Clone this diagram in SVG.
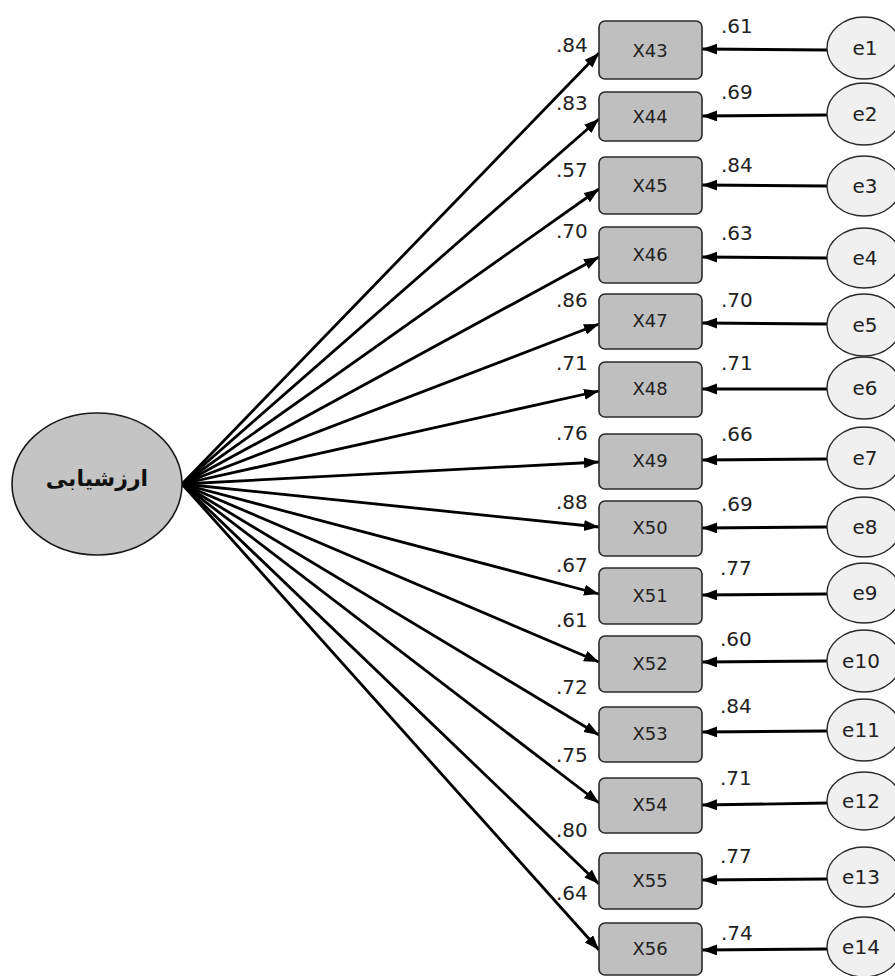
<svg xmlns="http://www.w3.org/2000/svg" width="895" height="976" viewBox="0 0 895 976">
<defs>
<marker id="ah" markerUnits="userSpaceOnUse" markerWidth="16" markerHeight="12" refX="15" refY="5.5" orient="auto">
<path d="M0,0 L15,5.5 L0,11 z" fill="#000"/>
</marker>
<style>
.box{fill:#bfbfbf;stroke:#2a2a2a;stroke-width:1.6}
.err{fill:#f0f0f0;stroke:#2a2a2a;stroke-width:1.4}
.lat{fill:#c4c4c4;stroke:#1a1a1a;stroke-width:1.6}
.bl{font-family:"DejaVu Sans",sans-serif;font-size:18px;fill:#222;text-anchor:middle}
.el{font-family:"DejaVu Sans",sans-serif;font-size:20px;fill:#222;text-anchor:middle}
.num{font-family:"DejaVu Sans",sans-serif;font-size:20px;fill:#222}
.c{stroke:#000;stroke-width:2.8;fill:none;marker-end:url(#ah)}
</style>
</defs>
<rect width="895" height="976" fill="#fff"/>
<g id="connectors">
<line class="c" x1="182" y1="484" x2="599" y2="53"/>
<line class="c" x1="182" y1="484" x2="599" y2="119"/>
<line class="c" x1="182" y1="484" x2="599" y2="189"/>
<line class="c" x1="182" y1="484" x2="599" y2="257"/>
<line class="c" x1="182" y1="484" x2="599" y2="324"/>
<line class="c" x1="182" y1="484" x2="599" y2="391"/>
<line class="c" x1="182" y1="484" x2="599" y2="462"/>
<line class="c" x1="182" y1="484" x2="599" y2="527"/>
<line class="c" x1="182" y1="484" x2="599" y2="594"/>
<line class="c" x1="182" y1="484" x2="599" y2="662"/>
<line class="c" x1="182" y1="484" x2="599" y2="735"/>
<line class="c" x1="182" y1="484" x2="599" y2="803"/>
<line class="c" x1="182" y1="484" x2="599" y2="884"/>
<line class="c" x1="182" y1="484" x2="599" y2="950"/>
<line class="c" x1="827" y1="50" x2="702" y2="49"/>
<line class="c" x1="827" y1="115" x2="702" y2="116"/>
<line class="c" x1="827" y1="186" x2="702" y2="185"/>
<line class="c" x1="827" y1="258" x2="702" y2="257"/>
<line class="c" x1="827" y1="324" x2="702" y2="323"/>
<line class="c" x1="827" y1="389" x2="702" y2="389"/>
<line class="c" x1="827" y1="459" x2="702" y2="460"/>
<line class="c" x1="827" y1="527" x2="702" y2="528"/>
<line class="c" x1="827" y1="594" x2="702" y2="595"/>
<line class="c" x1="827" y1="661" x2="702" y2="662"/>
<line class="c" x1="827" y1="731" x2="702" y2="732"/>
<line class="c" x1="827" y1="803" x2="702" y2="805"/>
<line class="c" x1="827" y1="879" x2="702" y2="880"/>
<line class="c" x1="827" y1="949" x2="702" y2="950"/>
</g>
<g id="latent">
<ellipse class="lat" cx="97" cy="484" rx="85" ry="71"/>
<text x="97" y="486" font-family="'DejaVu Sans',sans-serif" font-size="22" font-weight="bold" text-anchor="middle" fill="#111">ارزشیابی</text>
</g>
<g id="X43"><rect class="box" x="599" y="21" width="103" height="58" rx="6"/><text class="bl" x="650" y="57">X43</text></g>
<g id="X44"><rect class="box" x="599" y="92" width="103" height="49" rx="6"/><text class="bl" x="650" y="123">X44</text></g>
<g id="X45"><rect class="box" x="599" y="157" width="103" height="57" rx="6"/><text class="bl" x="650" y="192">X45</text></g>
<g id="X46"><rect class="box" x="599" y="227" width="103" height="56" rx="6"/><text class="bl" x="650" y="261">X46</text></g>
<g id="X47"><rect class="box" x="599" y="294" width="103" height="55" rx="6"/><text class="bl" x="650" y="327">X47</text></g>
<g id="X48"><rect class="box" x="599" y="362" width="103" height="55" rx="6"/><text class="bl" x="650" y="395">X48</text></g>
<g id="X49"><rect class="box" x="599" y="434" width="103" height="55" rx="6"/><text class="bl" x="650" y="467">X49</text></g>
<g id="X50"><rect class="box" x="599" y="501" width="103" height="55" rx="6"/><text class="bl" x="650" y="534">X50</text></g>
<g id="X51"><rect class="box" x="599" y="568" width="103" height="56" rx="6"/><text class="bl" x="650" y="602">X51</text></g>
<g id="X52"><rect class="box" x="599" y="636" width="103" height="56" rx="6"/><text class="bl" x="650" y="670">X52</text></g>
<g id="X53"><rect class="box" x="599" y="707" width="103" height="55" rx="6"/><text class="bl" x="650" y="740">X53</text></g>
<g id="X54"><rect class="box" x="599" y="778" width="103" height="55" rx="6"/><text class="bl" x="650" y="811">X54</text></g>
<g id="X55"><rect class="box" x="599" y="853" width="103" height="56" rx="6"/><text class="bl" x="650" y="887">X55</text></g>
<g id="X56"><rect class="box" x="599" y="923" width="103" height="52" rx="6"/><text class="bl" x="650" y="955">X56</text></g>
<g id="e1"><ellipse class="err" cx="864" cy="48" rx="37" ry="31"/><text class="el" x="865" y="55">e1</text></g>
<g id="e2"><ellipse class="err" cx="864" cy="114" rx="37" ry="31"/><text class="el" x="865" y="121">e2</text></g>
<g id="e3"><ellipse class="err" cx="864" cy="186" rx="37" ry="30"/><text class="el" x="865" y="193">e3</text></g>
<g id="e4"><ellipse class="err" cx="864" cy="258" rx="37" ry="30"/><text class="el" x="865" y="265">e4</text></g>
<g id="e5"><ellipse class="err" cx="864" cy="325" rx="37" ry="31"/><text class="el" x="865" y="332">e5</text></g>
<g id="e6"><ellipse class="err" cx="864" cy="388" rx="37" ry="31"/><text class="el" x="865" y="395">e6</text></g>
<g id="e7"><ellipse class="err" cx="864" cy="458" rx="37" ry="31"/><text class="el" x="865" y="465">e7</text></g>
<g id="e8"><ellipse class="err" cx="864" cy="527" rx="37" ry="30"/><text class="el" x="865" y="534">e8</text></g>
<g id="e9"><ellipse class="err" cx="864" cy="593" rx="37" ry="30"/><text class="el" x="865" y="600">e9</text></g>
<g id="e10"><ellipse class="err" cx="864" cy="661" rx="37" ry="31"/><text class="el" x="861" y="668">e10</text></g>
<g id="e11"><ellipse class="err" cx="864" cy="730" rx="37" ry="31"/><text class="el" x="861" y="737">e11</text></g>
<g id="e12"><ellipse class="err" cx="864" cy="801" rx="37" ry="29"/><text class="el" x="861" y="808">e12</text></g>
<g id="e13"><ellipse class="err" cx="864" cy="877" rx="37" ry="30"/><text class="el" x="861" y="884">e13</text></g>
<g id="e14"><ellipse class="err" cx="864" cy="947" rx="37" ry="30"/><text class="el" x="861" y="954">e14</text></g>
<g id="loadings">
<text class="num" x="556" y="52">.84</text>
<text class="num" x="556" y="110">.83</text>
<text class="num" x="556" y="177">.57</text>
<text class="num" x="556" y="238">.70</text>
<text class="num" x="556" y="307">.86</text>
<text class="num" x="556" y="370">.71</text>
<text class="num" x="556" y="440">.76</text>
<text class="num" x="556" y="509">.88</text>
<text class="num" x="556" y="572">.67</text>
<text class="num" x="556" y="627">.61</text>
<text class="num" x="556" y="694">.72</text>
<text class="num" x="556" y="762">.75</text>
<text class="num" x="556" y="837">.80</text>
<text class="num" x="556" y="900">.64</text>
</g>
<g id="errorweights">
<text class="num" x="721" y="33">.61</text>
<text class="num" x="721" y="99">.69</text>
<text class="num" x="721" y="172">.84</text>
<text class="num" x="721" y="240">.63</text>
<text class="num" x="721" y="307">.70</text>
<text class="num" x="721" y="370">.71</text>
<text class="num" x="721" y="441">.66</text>
<text class="num" x="721" y="511">.69</text>
<text class="num" x="720" y="575">.77</text>
<text class="num" x="720" y="646">.60</text>
<text class="num" x="720" y="713">.84</text>
<text class="num" x="720" y="785">.71</text>
<text class="num" x="720" y="863">.77</text>
<text class="num" x="721" y="940">.74</text>
</g>
</svg>
